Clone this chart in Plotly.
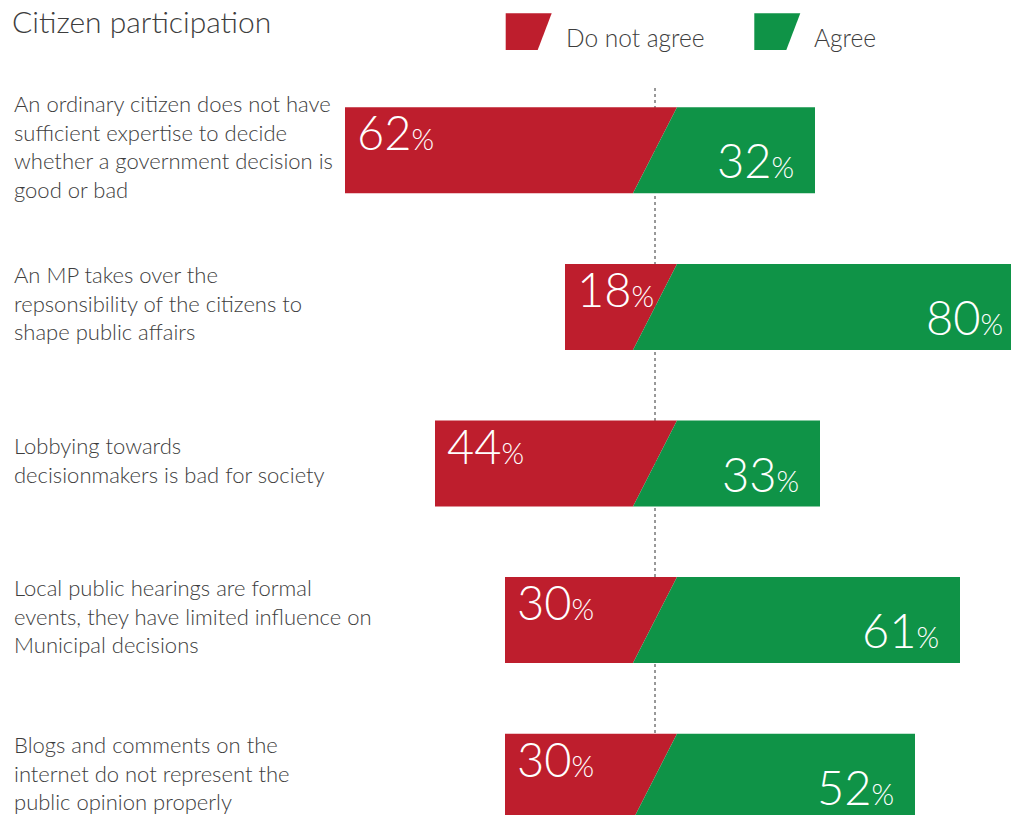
import plotly.graph_objects as go

# ---- data ----
statements = [
    "An ordinary citizen does not have<br>sufficient expertise to decide<br>whether a government decision is<br>good or bad",
    "An MP takes over the<br>repsonsibility of the citizens to<br>shape public affairs",
    "Lobbying towards<br>decisionmakers is bad for society",
    "Local public hearings are formal<br>events, they have limited influence on<br>Municipal decisions",
    "Blogs and comments on the<br>internet do not represent the<br>public opinion properly",
]
do_not_agree = [62, 18, 44, 30, 30]
agree = [32, 80, 33, 61, 52]
title = "Citizen participation"
legend_labels = ["Do not agree", "Agree"]

# ---- style ----
W, H = 1011, 815
RED = "#BE1E2D"
GREEN = "#0F9347"
TEXT = "#3d3d3d"
FONT = "Lato, 'Source Sans Pro', 'Open Sans', sans-serif"
PX_PER_UNIT = 5.0
CENTER_PX = 655
ROW0_PX, ROW_STEP_PX = 150.3, 156.6
BAR_H = 43 / ROW_STEP_PX          # half height in row units
SLANT = 22 / PX_PER_UNIT          # half slant in x units

x_min = -CENTER_PX / PX_PER_UNIT
x_max = (W - CENTER_PX) / PX_PER_UNIT
y_top = -ROW0_PX / ROW_STEP_PX
y_bot = (H - ROW0_PX) / ROW_STEP_PX

fig = go.Figure()

# dotted centre line
fig.add_shape(type="line", xref="x", yref="y", x0=0, x1=0,
              y0=(88 - ROW0_PX) / ROW_STEP_PX, y1=len(statements) - 1 - BAR_H,
              line=dict(color="#333333", width=1, dash="dot"), layer="below")

for i, (r, g) in enumerate(zip(do_not_agree, agree)):
    yt, yb = i - BAR_H, i + BAR_H
    fig.add_trace(go.Scatter(
        x=[-r, SLANT, -SLANT, -r, -r], y=[yt, yt, yb, yb, yt],
        fill="toself", fillcolor=RED, mode="lines", line=dict(width=0),
        hoverinfo="skip", showlegend=False))
    fig.add_trace(go.Scatter(
        x=[SLANT, g, g, -SLANT, SLANT], y=[yt, yt, yb, yb, yt],
        fill="toself", fillcolor=GREEN, mode="lines", line=dict(width=0),
        hoverinfo="skip", showlegend=False))
    # value labels
    fig.add_annotation(x=-r, y=i, xref="x", yref="y", xanchor="left", yanchor="middle",
                       xshift=10, yshift=18, showarrow=False,
                       text=f"{r}<span style='font-size:29px'>%</span>",
                       font=dict(family=FONT, size=47, color="white", weight=300))
    fig.add_annotation(x=min(g, x_max), y=i, xref="x", yref="y", xanchor="right", yanchor="middle",
                       xshift=-19 if g < x_max else -6, yshift=18 - 28, showarrow=False,
                       text=f"{g}<span style='font-size:29px'>%</span>",
                       font=dict(family=FONT, size=47, color="white", weight=300))
    # statement label
    fig.add_annotation(x=12 / W, y=i, xref="paper", yref="y", xanchor="left", yanchor="middle",
                       align="left", showarrow=False, text=statements[i], yshift=4,
                       font=dict(family=FONT, size=22, color=TEXT, weight=300))

# title
fig.add_annotation(x=10 / W, y=1 - 1 / H, xref="paper", yref="paper", xanchor="left", yanchor="top",
                   showarrow=False, text=title,
                   font=dict(family=FONT, size=30, color=TEXT, weight=300))

# legend swatches and labels
def px(xp):
    return xp / W

def py(yp):
    return 1 - yp / H

for color, label, left in [(RED, legend_labels[0], 505.7), (GREEN, legend_labels[1], 754.3)]:
    path = (f"M {px(left)} {py(13.3)} L {px(left + 46)} {py(13.3)} "
            f"L {px(left + 32)} {py(50)} L {px(left)} {py(50)} Z")
    fig.add_shape(type="path", xref="paper", yref="paper", path=path,
                  fillcolor=color, line=dict(width=0))
    fig.add_annotation(x=px(left + 58), y=py(38), xref="paper", yref="paper",
                       xanchor="left", yanchor="middle", showarrow=False, text=label,
                       font=dict(family=FONT, size=24.5, color=TEXT, weight=300))

fig.update_layout(
    width=W, height=H,
    margin=dict(l=0, r=0, t=0, b=0),
    paper_bgcolor="white", plot_bgcolor="white",
    xaxis=dict(range=[x_min, x_max], visible=False, fixedrange=True),
    yaxis=dict(range=[y_bot, y_top], visible=False, fixedrange=True),
    showlegend=False,
)

fig.write_html("out.html", config={"displayModeBar": False},
               post_script="document.body.style.margin='0';document.body.style.overflow='hidden';")
